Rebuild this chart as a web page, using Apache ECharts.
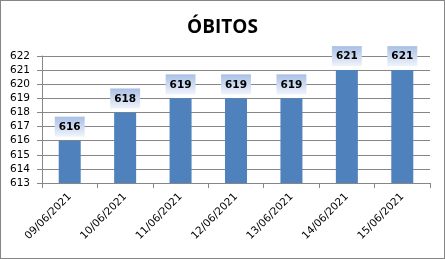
<!DOCTYPE html>
<html>
<head>
<meta charset="utf-8">
<script src="https://cdn.jsdelivr.net/npm/echarts@6/dist/echarts.min.js"></script>
<style>
    html, body { margin: 0; padding: 0; background: #fff; }
    #chart { width: 445px; height: 259px; box-sizing: border-box; border: 1px solid #868686; }
</style>
</head>
<body>
<div id="chart"></div>
<script>
const dates = ['09/06/2021', '10/06/2021', '11/06/2021', '12/06/2021', '13/06/2021', '14/06/2021', '15/06/2021'];
const obitos = [616, 618, 619, 619, 619, 621, 621];
const yMin = 613;
const yMax = 622;

(function (echarts) {
    'use strict';

    const gridGray = '#868686';
    const handle = echarts.init(document.getElementById('chart'), null, {renderer: 'canvas'});

    handle.setOption({
        backgroundColor: '#fff',
        animation: false,
        title: {
            text: 'ÓBITOS',
            left: 'center',
            top: 12,
            textStyle: {
                fontFamily: 'Open Sans',
                fontWeight: 'bold',
                fontSize: 19,
                color: '#000'
            }
        },
        grid: {
            left: 41,
            right: 14,
            top: 55,
            bottom: 75
        },
        xAxis: {
            type: 'category',
            data: dates,
            axisLine: {lineStyle: {color: gridGray}},
            axisTick: {show: true, length: 5, lineStyle: {color: gridGray}},
            axisLabel: {
                rotate: 45,
                margin: 12,
                fontFamily: 'DejaVu Sans',
                fontSize: 10.5,
                color: '#000'
            }
        },
        yAxis: {
            type: 'value',
            min: yMin,
            max: yMax,
            interval: 1,
            axisLine: {show: true, lineStyle: {color: gridGray}},
            axisTick: {show: true, length: 5, lineStyle: {color: gridGray}},
            splitLine: {lineStyle: {color: gridGray}},
            axisLabel: {
                margin: 12,
                fontFamily: 'DejaVu Sans',
                fontSize: 10.5,
                color: '#000'
            }
        },
        series: [{
            type: 'bar',
            data: obitos,
            barWidth: 22,
            itemStyle: {color: '#4F81BD'},
            label: {
                show: true,
                position: 'top',
                distance: 4,
                fontFamily: 'DejaVu Sans',
                fontWeight: 'bold',
                fontSize: 10.5,
                color: '#000',
                padding: [5, 4, 4, 4],
                backgroundColor: new echarts.graphic.LinearGradient(0, 0, 0, 1, [
                    {offset: 0, color: '#a8bfe6'},
                    {offset: 1, color: '#f0f4fb'}
                ])
            }
        }]
    });
})(echarts);
</script>
</body>
</html>
